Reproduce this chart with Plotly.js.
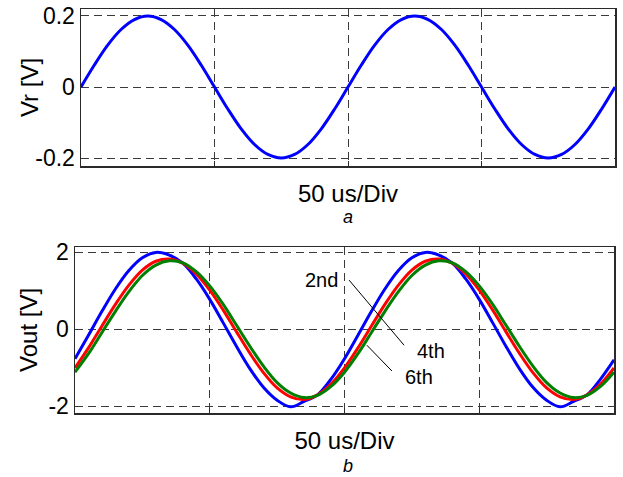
<!DOCTYPE html>
<html>
<head>
<meta charset="utf-8">
<script src="https://cdn.plot.ly/plotly-3.0.1.min.js"></script>
<style>html,body{margin:0;padding:0;background:#fff;}#chart{width:623px;height:477px;}</style>
</head>
<body>
<div id="chart"></div>
<script>
// time axis (us), 50 us/Div, 4 divisions
var timeUs = [0,5,10,15,20,25,30,35,40,45,50,55,60,65,70,75,80,85,90,95,100,
              105,110,115,120,125,130,135,140,145,150,155,160,165,170,175,180,185,190,195,200];

// panel a: reference voltage Vr [V]
var vr = [0,0.062,0.118,0.162,0.190,0.200,0.190,0.162,0.118,0.062,0,
          -0.062,-0.118,-0.162,-0.190,-0.200,-0.190,-0.162,-0.118,-0.062,0,
          0.062,0.118,0.162,0.190,0.200,0.190,0.162,0.118,0.062,0,
          -0.062,-0.118,-0.162,-0.190,-0.200,-0.190,-0.162,-0.118,-0.062,0];

// panel b: output voltage Vout [V] for 2nd, 4th, 6th order
var vout2nd = [-0.77,-0.16,0.46,1.04,1.52,1.85,1.99,1.92,1.71,1.30,0.77,0.16,-0.46,-1.04,-1.52,-1.85,-2.02,-1.88,-1.71,-1.30,
               -0.77,-0.16,0.46,1.04,1.52,1.85,1.99,1.92,1.71,1.30,0.77,0.16,-0.46,-1.04,-1.52,-1.85,-2.02,-1.88,-1.71,-1.30,-0.80];
var vout4th = [-1.01,-0.49,0.08,0.64,1.14,1.53,1.76,1.82,1.71,1.43,1.01,0.49,-0.08,-0.64,-1.14,-1.53,-1.76,-1.83,-1.71,-1.43,
               -1.01,-0.49,0.08,0.64,1.14,1.53,1.76,1.82,1.71,1.43,1.01,0.49,-0.08,-0.64,-1.14,-1.53,-1.76,-1.83,-1.71,-1.43,-1.01];
var vout6th = [-1.12,-0.64,-0.09,0.46,0.97,1.39,1.66,1.77,1.72,1.49,1.12,0.64,0.09,-0.46,-0.97,-1.39,-1.66,-1.78,-1.72,-1.49,
               -1.12,-0.64,-0.09,0.46,0.97,1.39,1.66,1.77,1.72,1.49,1.12,0.64,0.09,-0.46,-0.97,-1.39,-1.66,-1.78,-1.72,-1.49,-1.12];

var seriesNames = ["2nd","4th","6th"];
var xTickVals = [0,50,100,150,200];
var yTickValsA = [0.2,0,-0.2];
var yTickTextA = ["0.2","0","-0.2"];
var yTickValsB = [2,0,-2];
var yTickTextB = ["2","0","-2"];
var yTitleA = "Vr [V]";
var yTitleB = "Vout [V]";
var xTitle = "50 us/Div";

var FONT = "Liberation Sans, Arial, sans-serif";
var gridColor = "#3a3a3a";
var axisColor = "#2a2a2a";

var traces = [
  {x: timeUs, y: vr, xaxis: "x", yaxis: "y", mode: "lines", name: "Vr",
   line: {color: "#0000ff", width: 3, shape: "spline"}},
  {x: timeUs, y: vout2nd, xaxis: "x2", yaxis: "y2", mode: "lines", name: seriesNames[0],
   line: {color: "#0000ff", width: 3, shape: "spline"}},
  {x: timeUs, y: vout4th, xaxis: "x2", yaxis: "y2", mode: "lines", name: seriesNames[1],
   line: {color: "#ff0000", width: 3, shape: "spline"}},
  {x: timeUs, y: vout6th, xaxis: "x2", yaxis: "y2", mode: "lines", name: seriesNames[2],
   line: {color: "#008000", width: 3, shape: "spline"}}
];

function xAxis(domain, anchor) {
  return {
    domain: domain, anchor: anchor, range: [0,200],
    tickvals: xTickVals, showticklabels: false,
    ticks: "inside", ticklen: 5, tickcolor: axisColor,
    showgrid: true, gridcolor: gridColor, griddash: "8px,5px", gridwidth: 1,
    showline: true, linecolor: axisColor, linewidth: 1.5, mirror: true,
    zeroline: false,
    title: {text: xTitle, font: {family: FONT, size: 24, color: "#000"}, standoff: 18}
  };
}
function yAxis(domain, anchor, range, vals, text) {
  return {
    domain: domain, anchor: anchor, range: range,
    tickvals: vals, ticktext: text,
    tickfont: {family: FONT, size: 23, color: "#000"},
    ticks: "", showgrid: true, gridcolor: gridColor, griddash: "8px,5px", gridwidth: 1,
    showline: true, linecolor: axisColor, linewidth: 1.5, mirror: true,
    zeroline: false
  };
}

var layout = {
  width: 623, height: 477,
  margin: {l: 0, r: 0, t: 0, b: 0},
  paper_bgcolor: "#fff", plot_bgcolor: "#fff",
  showlegend: false,
  font: {family: FONT, color: "#000"},
  xaxis: xAxis([81/623, 615/623], "y"),
  yaxis: yAxis([1-166/477, 1-9/477], "x", [-0.2225, 0.2197], yTickValsA, yTickTextA),
  xaxis2: xAxis([75/623, 614/623], "y2"),
  yaxis2: yAxis([1-413/477, 1-247/477], "x2", [-2.18, 2.13], yTickValsB, yTickTextB),
  annotations: [
    {text: yTitleA, xref: "paper", yref: "paper", x: 29/623, y: 1-88/477, showarrow: false, textangle: -90,
     font: {family: FONT, size: 24, color: "#000"}, xanchor: "center", yanchor: "middle"},
    {text: yTitleB, xref: "paper", yref: "paper", x: 28/623, y: 1-330/477, showarrow: false, textangle: -90,
     font: {family: FONT, size: 24, color: "#000"}, xanchor: "center", yanchor: "middle"},
    {text: "<i>a</i>", xref: "paper", yref: "paper", x: 348/623, y: 1-217/477, showarrow: false,
     font: {family: FONT, size: 18, color: "#000"}, xanchor: "center", yanchor: "middle"},
    {text: "<i>b</i>", xref: "paper", yref: "paper", x: 348/623, y: 1-466/477, showarrow: false,
     font: {family: FONT, size: 18, color: "#000"}, xanchor: "center", yanchor: "middle"},
    {text: seriesNames[0], xref: "x2", yref: "y2", x: 91.3, y: 1.27, showarrow: false,
     font: {family: FONT, size: 20, color: "#000"}},
    {text: seriesNames[1], xref: "x2", yref: "y2", x: 132.1, y: -0.57, showarrow: false,
     font: {family: FONT, size: 20, color: "#000"}},
    {text: seriesNames[2], xref: "x2", yref: "y2", x: 127.6, y: -1.25, showarrow: false,
     font: {family: FONT, size: 20, color: "#000"}}
  ],
  shapes: [
    {type: "line", xref: "x2", yref: "y2", x0: 101.7, y0: 1.27, x1: 122.1, y1: -0.42,
     line: {color: "#000", width: 1}},
    {type: "line", xref: "x2", yref: "y2", x0: 108.3, y0: -0.42, x1: 117.6, y1: -1.09,
     line: {color: "#000", width: 1}}
  ]
};

Plotly.newPlot("chart", traces, layout, {staticPlot: true, displayModeBar: false});
</script>
</body>
</html>
